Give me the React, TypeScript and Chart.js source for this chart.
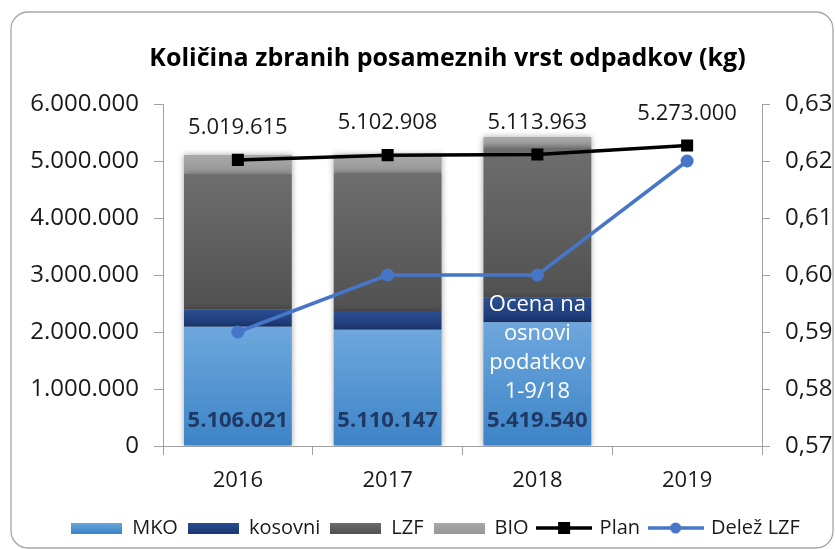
import React, { useEffect, useRef } from 'react';
import { Chart, registerables } from 'chart.js';

Chart.register(...registerables);

const categories = ['2016', '2017', '2018', '2019'];
const mkoValues = [2090000, 2040000, 2170000, null];
const kosovniValues = [310000, 330000, 430000, null];
const lzfValues = [2380000, 2420000, 2640000, null];
const bioValues = [326000, 320000, 180000, null];
const planValues = [5019615, 5102908, 5113963, 5273000];
const delezValues = [0.59, 0.6, 0.6, 0.62];
const planLabels = ['5.019.615', '5.102.908', '5.113.963', '5.273.000'];
const totalLabels = ['5.106.021', '5.110.147', '5.419.540', ''];
const noteLines = ['Ocena na', 'osnovi', 'podatkov', '1-9/18'];
const noteCategory = '2018';
const legendNames = ['MKO', 'kosovni', 'LZF', 'BIO', 'Plan', 'Delež LZF'];
const titleText = 'Količina zbranih posameznih vrst odpadkov (kg)';

const FONT = "'Open Sans', sans-serif";
const TEXT = '#1a1a1a';
const AXIS = '#a0a0a0';
const COL_MKO = ['#6ea7dd', '#3c84c7'];
const COL_KOS = ['#2c4f92', '#1a3772'];
const COL_LZF = ['#6e6e6e', '#515151'];
const COL_BIO = ['#a9a9a9', '#979797'];
const COL_PLAN = '#000000';
const COL_DELEZ = '#4776c8';

const fmtThousands = (v: number) => String(Math.round(v)).replace(/\B(?=(\d{3})+(?!\d))/g, '.');
const fmtShare = (v: number) => v.toFixed(2).replace('.', ',');

export default function App() {
  const ref = useRef<HTMLCanvasElement>(null);

  useEffect(() => {
    const canvas = ref.current!;
    const stackArrays = [mkoValues, kosovniValues, lzfValues, bioValues];

    const grad = (k: number, cols: string[]) => (ctx: any) => {
      const chart = ctx.chart;
      const ys = chart.scales && chart.scales.y;
      if (!ys || ctx.type !== 'data') return cols[0];
      const i = ctx.dataIndex;
      let base = 0;
      for (let j = 0; j < k; j++) base += (stackArrays[j][i] as number) ?? 0;
      const v = (stackArrays[k][i] as number) ?? 0;
      const y0 = ys.getPixelForValue(base);
      const y1 = ys.getPixelForValue(base + v);
      if (!isFinite(y0) || !isFinite(y1) || y0 === y1) return cols[0];
      const g = chart.ctx.createLinearGradient(0, y1, 0, y0);
      g.addColorStop(0, cols[0]);
      g.addColorStop(1, cols[1]);
      return g;
    };

    const mk = (w: number, h: number, draw: (g: CanvasRenderingContext2D) => void) => {
      const c = document.createElement('canvas');
      c.width = w;
      c.height = h;
      draw(c.getContext('2d')!);
      return c;
    };
    const boxImg = (cols: string[]) =>
      mk(51, 11, (g) => {
        const gr = g.createLinearGradient(0, 0, 0, 11);
        gr.addColorStop(0, cols[0]);
        gr.addColorStop(1, cols[1]);
        g.fillStyle = gr;
        g.fillRect(0, 0, 51, 11);
      });
    const planImg = mk(56, 14, (g) => {
      g.strokeStyle = COL_PLAN;
      g.lineWidth = 3.5;
      g.beginPath();
      g.moveTo(0, 7);
      g.lineTo(56, 7);
      g.stroke();
      g.fillStyle = COL_PLAN;
      g.fillRect(22, 1, 12, 12);
    });
    const delezImg = mk(56, 14, (g) => {
      g.strokeStyle = COL_DELEZ;
      g.lineWidth = 3.5;
      g.beginPath();
      g.moveTo(0, 7);
      g.lineTo(56, 7);
      g.stroke();
      g.fillStyle = COL_DELEZ;
      g.beginPath();
      g.arc(28, 7, 5.5, 0, Math.PI * 2);
      g.fill();
    });
    const legendImgs = [boxImg(COL_MKO), boxImg(COL_KOS), boxImg(COL_LZF), boxImg(COL_BIO), planImg, delezImg];

    const decor = {
      id: 'decor',
      beforeDraw(chart: any) {
        const c = chart.ctx;
        c.save();
        c.fillStyle = '#ffffff';
        c.fillRect(0, 0, chart.width, chart.height);
        c.strokeStyle = '#a6a6a6';
        c.lineWidth = 1.3;
        c.beginPath();
        c.roundRect(11, 12, 822, 536, 17);
        c.stroke();
        c.restore();
      },
      afterLayout(chart: any) {
        const t = chart.titleBlock;
        if (t) {
          t.left += 30;
          t.right += 30;
        }
        const l = chart.legend;
        if (l) {
          l.left += 18;
          l.right += 18;
        }
      },
      beforeDatasetDraw(chart: any, args: any) {
        if (chart.data.datasets[args.index].type === 'bar') {
          const c = chart.ctx;
          c.save();
          c.shadowColor = 'rgba(0,0,0,0.35)';
          c.shadowBlur = 6;
          c.shadowOffsetX = 0;
          c.shadowOffsetY = 0;
        }
      },
      afterDatasetDraw(chart: any, args: any) {
        if (chart.data.datasets[args.index].type === 'bar') chart.ctx.restore();
      },
      afterDatasetsDraw(chart: any) {
        const c = chart.ctx;
        const ys = chart.scales.y;
        const zero = ys.getPixelForValue(0);
        c.save();
        c.textAlign = 'center';
        c.textBaseline = 'middle';
        const planMeta = chart.getDatasetMeta(0);
        c.font = `22px ${FONT}`;
        c.fillStyle = TEXT;
        planMeta.data.forEach((el: any, i: number) => {
          c.fillText(planLabels[i], el.x, el.y - 32);
        });
        const mkoMeta = chart.getDatasetMeta(2);
        mkoMeta.data.forEach((el: any, i: number) => {
          if (!totalLabels[i]) return;
          const ty = zero - 25;
          c.font = `bold 22px ${FONT}`;
          c.fillStyle = '#203864';
          c.fillText(totalLabels[i], el.x, ty);
          if (categories[i] === noteCategory) {
            c.font = `22px ${FONT}`;
            c.fillStyle = '#ffffff';
            noteLines.forEach((line, k) => {
              c.fillText(line, el.x, ty - 29 * (noteLines.length - k));
            });
          }
        });
        c.restore();
      },
    };

    const tickFont = { family: FONT, size: 22 };
    const yTickFont = { family: FONT, size: 24 };

    const chart = new Chart(canvas, {
      type: 'bar',
      data: {
        labels: categories,
        datasets: [
          {
            type: 'line',
            label: legendNames[4],
            data: planValues,
            yAxisID: 'y',
            stack: 'plan',
            borderColor: COL_PLAN,
            backgroundColor: COL_PLAN,
            borderWidth: 3.5,
            pointStyle: 'rect',
            pointRadius: 8.5,
            pointBackgroundColor: COL_PLAN,
            pointBorderWidth: 0,
            tension: 0,
            order: 0,
          },
          {
            type: 'line',
            label: legendNames[5],
            data: delezValues,
            yAxisID: 'y1',
            borderColor: COL_DELEZ,
            backgroundColor: COL_DELEZ,
            borderWidth: 3.5,
            pointStyle: 'circle',
            pointRadius: 6.5,
            pointBackgroundColor: COL_DELEZ,
            pointBorderWidth: 0,
            tension: 0,
            order: 0,
          },
          {
            type: 'bar',
            label: legendNames[0],
            data: mkoValues,
            yAxisID: 'y',
            stack: 'waste',
            backgroundColor: grad(0, COL_MKO),
            barPercentage: 0.72,
            categoryPercentage: 1,
            order: 1,
          },
          {
            type: 'bar',
            label: legendNames[1],
            data: kosovniValues,
            yAxisID: 'y',
            stack: 'waste',
            backgroundColor: grad(1, COL_KOS),
            barPercentage: 0.72,
            categoryPercentage: 1,
            order: 1,
          },
          {
            type: 'bar',
            label: legendNames[2],
            data: lzfValues,
            yAxisID: 'y',
            stack: 'waste',
            backgroundColor: grad(2, COL_LZF),
            barPercentage: 0.72,
            categoryPercentage: 1,
            order: 1,
          },
          {
            type: 'bar',
            label: legendNames[3],
            data: bioValues,
            yAxisID: 'y',
            stack: 'waste',
            backgroundColor: grad(3, COL_BIO),
            barPercentage: 0.72,
            categoryPercentage: 1,
            order: 1,
          },
        ] as any,
      },
      options: {
        responsive: false,
        animation: false,
        devicePixelRatio: 1,
        layout: { padding: { left: 0, right: 0, top: 0, bottom: 1 } },
        plugins: {
          title: {
            display: true,
            text: titleText,
            color: '#000000',
            font: { family: FONT, weight: 'bold', size: 25 },
            padding: { top: 44, bottom: 30 },
          },
          legend: {
            position: 'bottom',
            labels: {
              usePointStyle: true,
              pointStyleWidth: 51,
              boxHeight: 11,
              padding: 10,
              color: TEXT,
              font: { family: FONT, size: 20 },
              generateLabels: () =>
                legendNames.map((name, i) => ({
                  text: name,
                  pointStyle: legendImgs[i] as any,
                  fillStyle: 'transparent',
                  strokeStyle: 'transparent',
                  lineWidth: 0,
                  hidden: false,
                  datasetIndex: i,
                  fontColor: TEXT,
                })),
            },
          },
          tooltip: { enabled: false },
        },
        scales: {
          x: {
            stacked: true,
            offset: true,
            grid: { display: true, drawOnChartArea: false, offset: true, tickLength: 9, color: AXIS },
            border: { color: AXIS },
            ticks: { font: tickFont, color: TEXT, padding: 13 },
            afterFit: (s: any) => {
              s.height = 62;
            },
          },
          y: {
            stacked: true,
            min: 0,
            max: 6000000,
            ticks: { stepSize: 1000000, font: yTickFont, color: TEXT, padding: 15, callback: (v: any) => fmtThousands(Number(v)) },
            grid: { drawOnChartArea: false, tickLength: 9, color: AXIS },
            border: { color: AXIS },
            afterFit: (s: any) => {
              s.width = 163;
            },
          },
          y1: {
            position: 'right',
            stacked: false,
            min: 0.57,
            max: 0.63,
            ticks: { stepSize: 0.01, font: yTickFont, color: TEXT, padding: 15, callback: (v: any) => fmtShare(Number(v)) },
            grid: { drawOnChartArea: false, tickLength: 8, color: AXIS },
            border: { color: AXIS },
            afterFit: (s: any) => {
              s.width = 73;
            },
          },
        },
      } as any,
      plugins: [decor],
    });

    return () => chart.destroy();
  }, []);

  return (
    <div style={{ position: 'fixed', left: 0, top: 0, width: 835, height: 549, background: '#fff' }}>
      <canvas ref={ref} width={835} height={549} style={{ display: 'block', width: 835, height: 549 }} />
    </div>
  );
}
